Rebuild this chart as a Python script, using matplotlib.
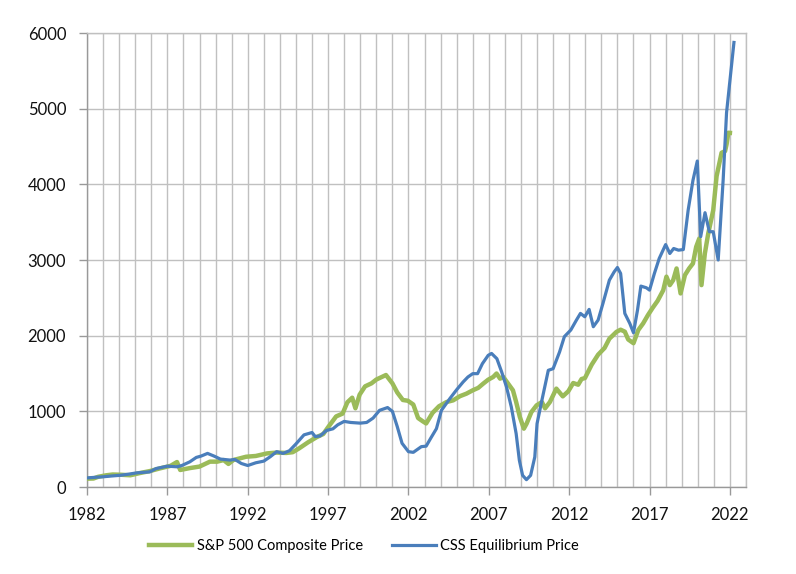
import matplotlib
matplotlib.use("Agg")
import matplotlib.pyplot as plt

# CSS Equilibrium Price
css_years = [1982.0, 1982.5, 1983.0, 1983.5, 1984.1, 1984.6, 1985.1, 1985.9, 1986.3, 1987.0,
             1987.6, 1987.9, 1988.4, 1988.8, 1989.1, 1989.5, 1989.9, 1990.3, 1990.9, 1991.2,
             1991.6, 1992.0, 1992.5, 1993.0, 1993.4, 1993.8, 1994.2, 1994.6, 1995.0, 1995.5,
             1996.0, 1996.2, 1996.5, 1996.9, 1997.3, 1997.6, 1998.0, 1998.4, 1999.0, 1999.4,
             1999.8, 2000.2, 2000.7, 2001.0, 2001.3, 2001.6, 2002.0, 2002.3, 2002.8, 2003.1,
             2003.4, 2003.74, 2004.05, 2004.57, 2005.0, 2005.4, 2005.7, 2006.0, 2006.3, 2006.6,
             2006.96, 2007.17, 2007.5, 2007.8, 2008.1, 2008.4, 2008.7, 2008.9, 2009.1, 2009.34,
             2009.6, 2009.86, 2010.0, 2010.3, 2010.7, 2011.0, 2011.4, 2011.7, 2012.1, 2012.45,
             2012.7, 2012.97, 2013.24, 2013.5, 2013.8, 2014.1, 2014.5, 2014.8, 2015.0, 2015.2,
             2015.46, 2015.77, 2016.0, 2016.25, 2016.46, 2016.8, 2017.0, 2017.3, 2017.6, 2018.0,
             2018.26, 2018.5, 2018.8, 2019.1, 2019.4, 2019.7, 2019.97, 2020.18, 2020.45, 2020.72,
             2020.96, 2021.27, 2021.58, 2021.79, 2022.25]
css_values = [120, 128, 135, 145, 155, 170, 187, 200, 244, 275,
              267, 284, 333, 391, 409, 444, 409, 369, 356, 364,
              311, 284, 320, 342, 400, 467, 444, 480, 569, 689,
              720, 667, 675, 747, 769, 822, 867, 853, 844, 853,
              911, 1013, 1050, 1000, 800, 578, 467, 458, 533, 540,
              650, 771, 1013, 1167, 1286, 1388, 1454, 1498, 1498, 1630,
              1740, 1765, 1696, 1520, 1321, 1057, 705, 352, 154, 97,
              154, 397, 837, 1145, 1542, 1564, 1784, 1987, 2075, 2206,
              2294, 2250, 2347, 2118, 2206, 2426, 2734, 2844, 2901, 2822,
              2294, 2162, 2039, 2338, 2655, 2633, 2602, 2822, 3020, 3204,
              3086, 3152, 3130, 3138, 3657, 4053, 4308, 3308, 3625, 3374,
              3374, 3000, 4063, 4947, 5875]

# S&P 500 Composite Price
sp_years = [1982.0, 1982.4, 1982.7, 1983.2, 1983.6, 1984.1, 1984.7, 1985.3, 1985.9, 1986.5,
            1987.2, 1987.6, 1987.8, 1988.4, 1989.0, 1989.65, 1990.1, 1990.5, 1990.8, 1991.1,
            1991.5, 1991.9, 1992.5, 1993.2, 1993.8, 1994.4, 1994.8, 1995.2, 1995.75, 1996.3,
            1996.7, 1997.0, 1997.5, 1997.9, 1998.2, 1998.5, 1998.7, 1998.96, 1999.3, 1999.7,
            2000.0, 2000.3, 2000.6, 2001.0, 2001.3, 2001.65, 2001.96, 2002.3, 2002.6, 2002.9,
            2003.1, 2003.5, 2003.9, 2004.37, 2004.78, 2005.2, 2005.6, 2006.0, 2006.34, 2006.65,
            2006.96, 2007.27, 2007.48, 2007.7, 2007.9, 2008.2, 2008.5, 2008.7, 2008.93, 2009.18,
            2009.35, 2009.65, 2009.97, 2010.3, 2010.5, 2010.8, 2011.2, 2011.6, 2011.94, 2012.25,
            2012.56, 2012.77, 2012.98, 2013.4, 2013.8, 2014.2, 2014.5, 2014.94, 2015.2, 2015.46,
            2015.67, 2016.0, 2016.3, 2016.6, 2016.9, 2017.2, 2017.5, 2017.85, 2018.05, 2018.26,
            2018.47, 2018.68, 2018.93, 2019.2, 2019.46, 2019.7, 2019.9, 2020.09, 2020.23, 2020.44,
            2020.65, 2020.96, 2021.17, 2021.48, 2021.7, 2021.79, 2021.9, 2022.0]
sp_values = [110, 112, 135, 155, 165, 162, 155, 185, 210, 244,
             280, 330, 225, 250, 270, 335, 335, 356, 305, 356,
             378, 400, 410, 444, 455, 450, 460, 511, 590, 660,
             700, 790, 933, 970, 1120, 1180, 1040, 1220, 1330, 1370,
             1420, 1450, 1480, 1370, 1250, 1150, 1140, 1090, 911, 867,
             840, 980, 1067, 1123, 1145, 1200, 1233, 1278, 1310, 1366,
             1418, 1454, 1500, 1432, 1454, 1366, 1278, 1123, 925, 771,
             837, 991, 1079, 1123, 1040, 1123, 1300, 1198, 1264, 1374,
             1352, 1427, 1440, 1617, 1749, 1837, 1960, 2050, 2079, 2053,
             1950, 1900, 2075, 2162, 2272, 2370, 2460, 2600, 2780, 2668,
             2734, 2888, 2558, 2800, 2888, 2954, 3174, 3283, 2668, 3086,
             3349, 3657, 4107, 4417, 4440, 4527, 4682, 4680]

x_tick_years = [1982, 1987, 1992, 1997, 2002, 2007, 2012, 2017, 2022]
y_ticks = [0, 1000, 2000, 3000, 4000, 5000, 6000]

plt.rcParams['font.family'] = ['Lato', 'DejaVu Sans']

fig = plt.figure(figsize=(7.96, 5.74), dpi=100)
ax = fig.add_axes([87/796, 1-487/574, (746-87)/796, (487-33)/574])

grid_c = '#C0C0C0'
ax.plot(sp_years, sp_values, color='#9BBB59', lw=3.2, label='S&P 500 Composite Price',
        solid_joinstyle='round', zorder=3)
ax.plot(css_years, css_values, color='#4A7EBB', lw=2.3, label='CSS Equilibrium Price',
        solid_joinstyle='round', zorder=4)

ax.set_xlim(1982, 2023)
ax.set_ylim(0, 6000)
ax.set_xticks(x_tick_years)
ax.set_xticks(range(1982, 2024), minor=True)
ax.set_yticks(y_ticks)
ax.grid(True, which='both', axis='x', color=grid_c, lw=1.0)
ax.grid(True, which='major', axis='y', color=grid_c, lw=1.0)
ax.set_axisbelow(True)
ax.tick_params(axis='both', which='major', labelsize=12, colors='#999999',
               labelcolor='#111111', length=5.5, width=1.0, direction='out')
ax.tick_params(axis='x', which='minor', length=0)
ax.tick_params(axis='x', which='major', pad=9)
ax.tick_params(axis='y', which='major', pad=9.5)
for s in ['top', 'right']:
    ax.spines[s].set_color(grid_c)
    ax.spines[s].set_linewidth(1.0)
for s in ['left', 'bottom']:
    ax.spines[s].set_color('#999999')
    ax.spines[s].set_linewidth(1.0)

fig.legend(loc='center', bbox_to_anchor=(0.457, 1-546/574), ncol=2, frameon=False,
           fontsize=10.5, handlelength=3.0, handletextpad=0.3, columnspacing=2.0)

fig.savefig('out.png', dpi=100)
